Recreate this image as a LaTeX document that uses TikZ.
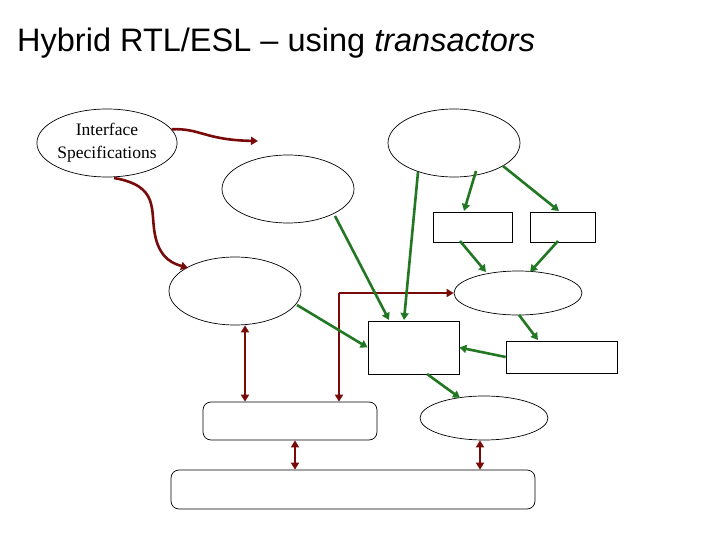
\documentclass[tikz,border=0pt]{standalone}
\usepackage{fontspec}
\setmainfont{Liberation Serif}
\newfontfamily\arialf{Liberation Sans}
\usetikzlibrary{arrows.meta,shapes.geometric}
\tikzset{
 el/.style={draw,ellipse,inner sep=0pt,line width=0.7pt},
 bx/.style={draw,rectangle,inner sep=0pt,line width=0.7pt},
 ga/.style={draw={rgb,255:red,34;green,120;blue,34},line width=2.6pt,-{Triangle[length=7pt,width=8pt]}},
 ra/.style={draw={rgb,255:red,120;green,10;blue,10},line width=2.6pt,-{Triangle[length=7pt,width=8pt]}},
 rb/.style={ra,{Triangle[length=7pt,width=8pt]}-{Triangle[length=7pt,width=8pt]}},
}
\begin{document}
\begin{tikzpicture}[x=1pt,y=-1pt]
\useasboundingbox (0,0) rectangle (720,540);
\node[anchor=base west,inner sep=0pt,font=\arialf\fontsize{32.5}{36}\selectfont] (title) at (17,52) {Hybrid RTL/ESL – using \textit{transactors}};
\node[el,minimum width=130pt,minimum height=68pt,align=center,font=\fontsize{17.5}{23}\selectfont] (spec) at (107,143) {Interface\\Specifications};
\node[el,minimum width=132pt,minimum height=68pt] (ea) at (288,189) {};
\node[el,minimum width=132pt,minimum height=68pt] (et) at (454,143) {};
\node[el,minimum width=132pt,minimum height=68pt] (eb) at (235,291) {};
\node[el,minimum width=128pt,minimum height=44pt] (em) at (518,293) {};
\node[el,minimum width=128pt,minimum height=44pt] (ebot) at (484,418) {};
\node[bx,minimum width=79pt,minimum height=30pt] (r1) at (472.5,227) {};
\node[bx,minimum width=65pt,minimum height=30pt] (r2) at (562.5,227) {};
\node[bx,minimum width=91pt,minimum height=53pt] (rc) at (413.5,347.5) {};
\node[bx,minimum width=111pt,minimum height=32pt] (rr) at (561.5,357) {};
\node[bx,rounded corners=8pt,minimum width=174pt,minimum height=38pt] (rd) at (290,421) {};
\node[bx,rounded corners=8pt,minimum width=364pt,minimum height=39pt] (rbot) at (353,489.5) {};
\coordinate (wend) at (258,141);
\coordinate (corner) at (339,293);
% red
\path[ra] (spec.12) .. controls (200,128) and (205,140) .. (wend);
\path[ra] (114,178) .. controls (160,186) and (150,210) .. (155,235) .. controls (160,260) and (175,264) .. (188,268);
\path[rb] (eb.south -| 245,0) -- (rd.north -| 245,0);
\path[rb] (rd.south -| 295,0) -- (rbot.north -| 295,0);
\path[rb] (ebot.south -| 480,0) -- (rbot.north -| 480,0);
\path[ra] (corner) -- (em.west);
\path[ra] (corner) -- (rd.north -| corner);
% green
\path[ga] (335,216) -- (389,320);
\path[ga] (418,172) -- (404,320);
\path[ga] (297,305) -- (rc.west);
\path[ga] (476,171) -- (464,211);
\path[ga] (503,166) -- (559,211);
\path[ga] (460,241) -- (486,272);
\path[ga] (558,241) -- (530,272);
\path[ga] (519,315) -- (538,340);
\path[ga] (rr.west) -- (rc.east);
\path[ga] (427,374) -- (460,398);
\end{tikzpicture}
\end{document}
